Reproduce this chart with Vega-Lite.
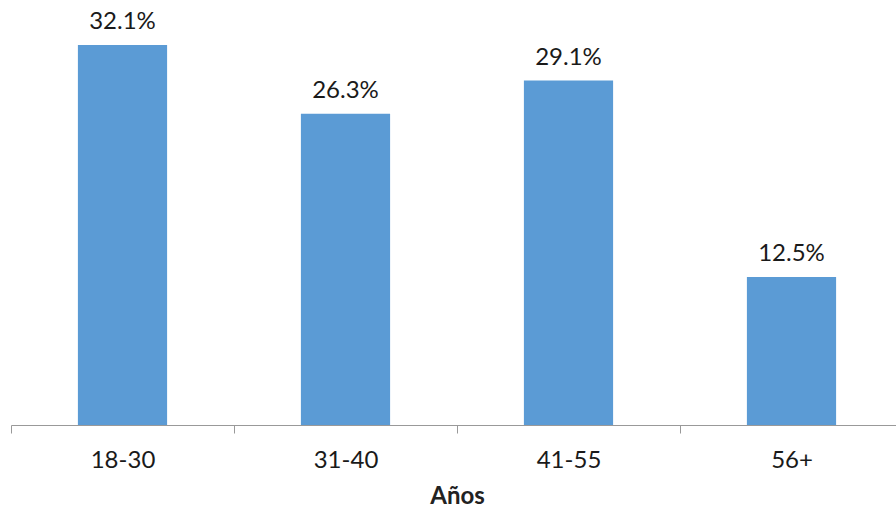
{
  "$schema": "https://vega.github.io/schema/vega-lite/v6.json",
  "autosize": "none",
  "width": 892,
  "height": 425,
  "padding": {"left": 11, "top": 0, "right": 0, "bottom": 87},
  "background": "white",
  "config": {"view": {"stroke": null}, "font": "Lato"},
  "data": {"values": [
    {"edad": "18-30", "pct": 0.321},
    {"edad": "31-40", "pct": 0.263},
    {"edad": "41-55", "pct": 0.291},
    {"edad": "56+", "pct": 0.125}
  ]},
  "encoding": {
    "x": {"field": "edad", "type": "nominal", "sort": null,
      "scale": {"paddingInner": 0, "paddingOuter": 0},
      "axis": {"title": "Años", "labelAngle": 0, "labelFontSize": 24, "labelFontWeight": "normal", "labelColor": "#1a1a1a", "labelPadding": 15,
        "titleFontSize": 24, "titleFontWeight": "bold", "titleColor": "#222222", "titlePadding": 12,
        "domainColor": "#999999", "tickColor": "#999999", "tickSize": 8, "tickBand": "extent", "grid": false}},
    "y": {"field": "pct", "type": "quantitative", "scale": {"domain": [0, 0.359], "nice": false}, "axis": null}
  },
  "layer": [
    {"mark": {"type": "bar", "color": "#5B9BD5", "width": {"band": 0.4}}},
    {"mark": {"type": "text", "dy": -16, "baseline": "alphabetic", "fontSize": 24, "fontWeight": "normal", "color": "#1a1a1a"},
     "encoding": {"text": {"field": "pct", "type": "quantitative", "format": ".1%"}}}
  ]
}
